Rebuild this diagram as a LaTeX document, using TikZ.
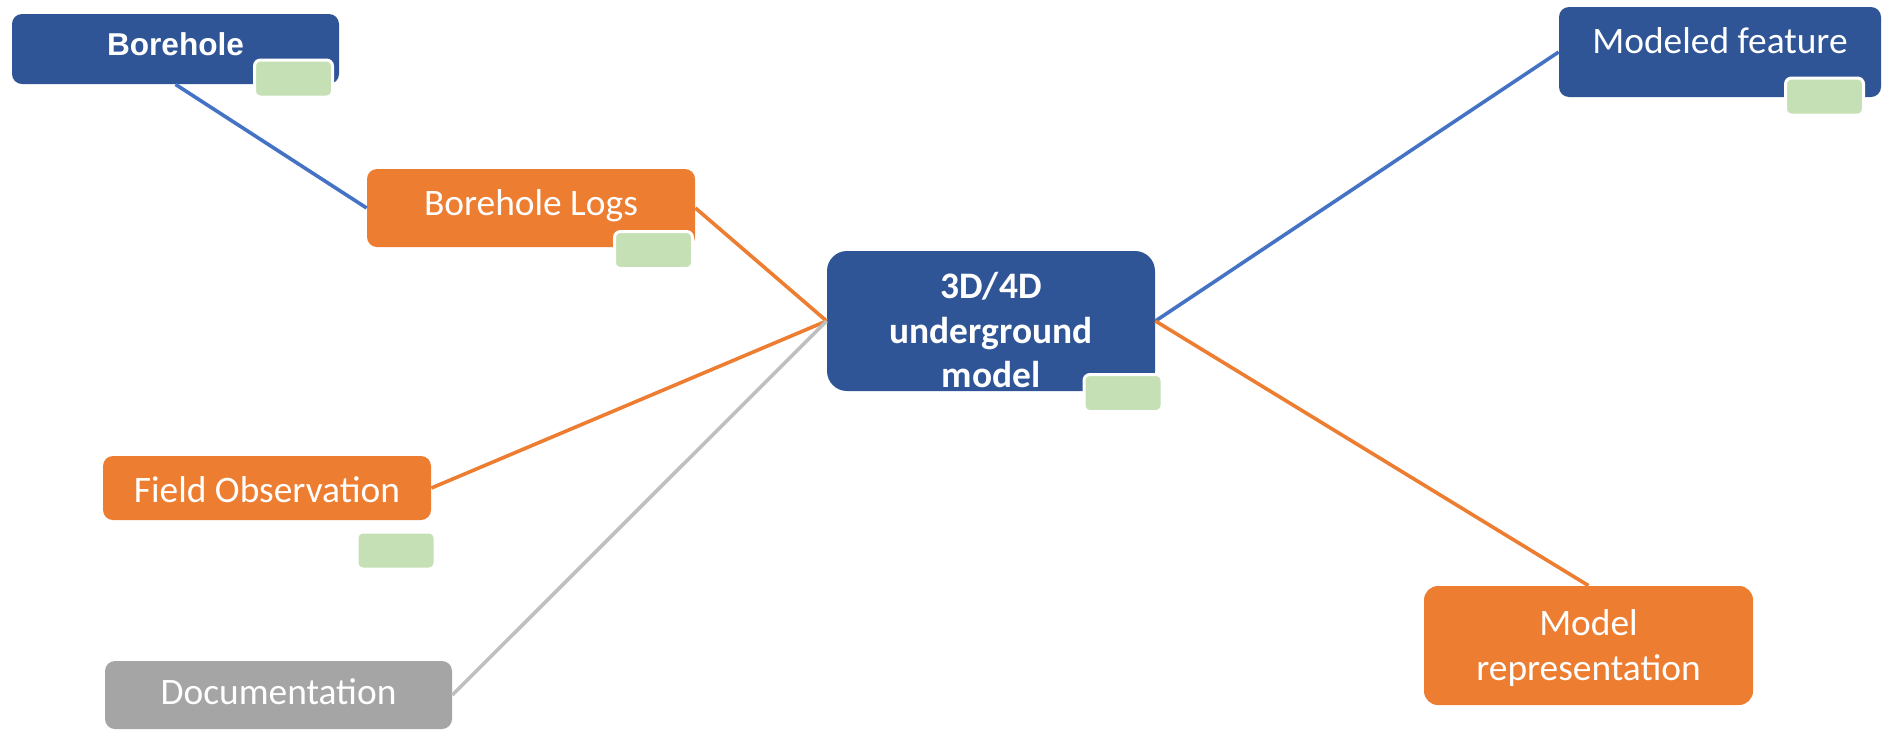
\documentclass[tikz,border=0pt]{standalone}
\usepackage{fontspec}
\setmainfont{Carlito}
\newfontfamily\arialfont{Liberation Sans}
\definecolor{boxblue}{HTML}{2F5597}
\definecolor{boxorange}{HTML}{ED7D31}
\definecolor{boxgrey}{HTML}{A5A5A5}
\definecolor{taggreen}{HTML}{C5E0B4}
\definecolor{lineblue}{HTML}{4472C4}
\definecolor{linegrey}{HTML}{BFBFBF}
\tikzset{
	% Three box styles for the map: blue, orange and grey
	blue box/.style={rectangle,rounded corners=5pt,fill=boxblue,text=white,inner sep=0pt},
	orange box/.style={rectangle,rounded corners=5pt,fill=boxorange,text=white,inner sep=0pt},
	grey box/.style={rectangle,rounded corners=5pt,fill=boxgrey,text=white,inner sep=0pt},
	% Small green tag sitting on a box
	tag box/.style={rectangle,rounded corners=3pt,fill=taggreen,draw=white,line width=1.5pt,minimum width=39pt,minimum height=18.5pt},
	link/.style={line width=1.8pt}
}
% text with no height, so the box size comes from minimum width/height only
\newcommand{\lift}[2]{\raisebox{#1}[0pt][0pt]{#2}}

\begin{document}
\begin{tikzpicture}[x=0.5pt,y=-0.5pt,font=\fontsize{18.7}{22.5}\selectfont]
	\useasboundingbox (0,0) rectangle (1883,729);
	
	% Boxes on the left
	\node(bh)[blue box,minimum width=163.5pt,minimum height=35pt,font=\arialfont\bfseries\fontsize{15.8}{18}\selectfont] at (175.5,49) {\lift{-3pt}{Borehole}};
	\node(logs)[orange box,minimum width=164pt,minimum height=39pt] at (531,208) {\lift{-3.5pt}{Borehole Logs}};
	\node(fo)[orange box,minimum width=164pt,minimum height=32pt] at (267,488) {\lift{-7pt}{Field Observation}};
	\node(doc)[grey box,minimum width=173.5pt,minimum height=34pt] at (278.5,695) {\lift{-4.5pt}{Documentation}};
	
	% Centre box
	\node(core)[blue box,rounded corners=10pt,minimum width=164pt,minimum height=70pt,font=\bfseries\fontsize{18.7}{22.3}\selectfont] at (991,321)
		{\lift{-11pt}{\begin{tabular}{@{}c@{}}3D/4D\\underground\\model\end{tabular}}};
	
	% Boxes on the right
	\node(mf)[blue box,minimum width=161pt,minimum height=45pt] at (1720,52) {\lift{-0.5pt}{Modeled feature}};
	\node(mr)[orange box,rounded corners=7pt,minimum width=164.5pt,minimum height=59.5pt] at (1588.5,645.5)
		{\lift{-6pt}{\begin{tabular}{@{}c@{}}Model\\representation\end{tabular}}};
	
	% Connectors
	\draw[link,lineblue] (bh.south) -- (logs.west);
	\draw[link,boxorange] (logs.east) -- (core.west);
	\draw[link,boxorange] (fo.east) -- (core.west);
	\draw[link,linegrey] (doc.east) -- (core.west);
	\draw[link,lineblue] (core.east) -- (mf.west);
	\draw[link,boxorange] (core.east) -- (mr.north);
	
	% Green tags
	\node(bhtag)[tag box] at (293.5,78.5) {};
	\node(logstag)[tag box] at (653.5,250) {};
	\node(coretag)[tag box] at (1123,393) {};
	\node(mftag)[tag box] at (1824.5,96.5) {};
	\node(fotag)[tag box] at (396,550.5) {};
\end{tikzpicture}
\end{document}
